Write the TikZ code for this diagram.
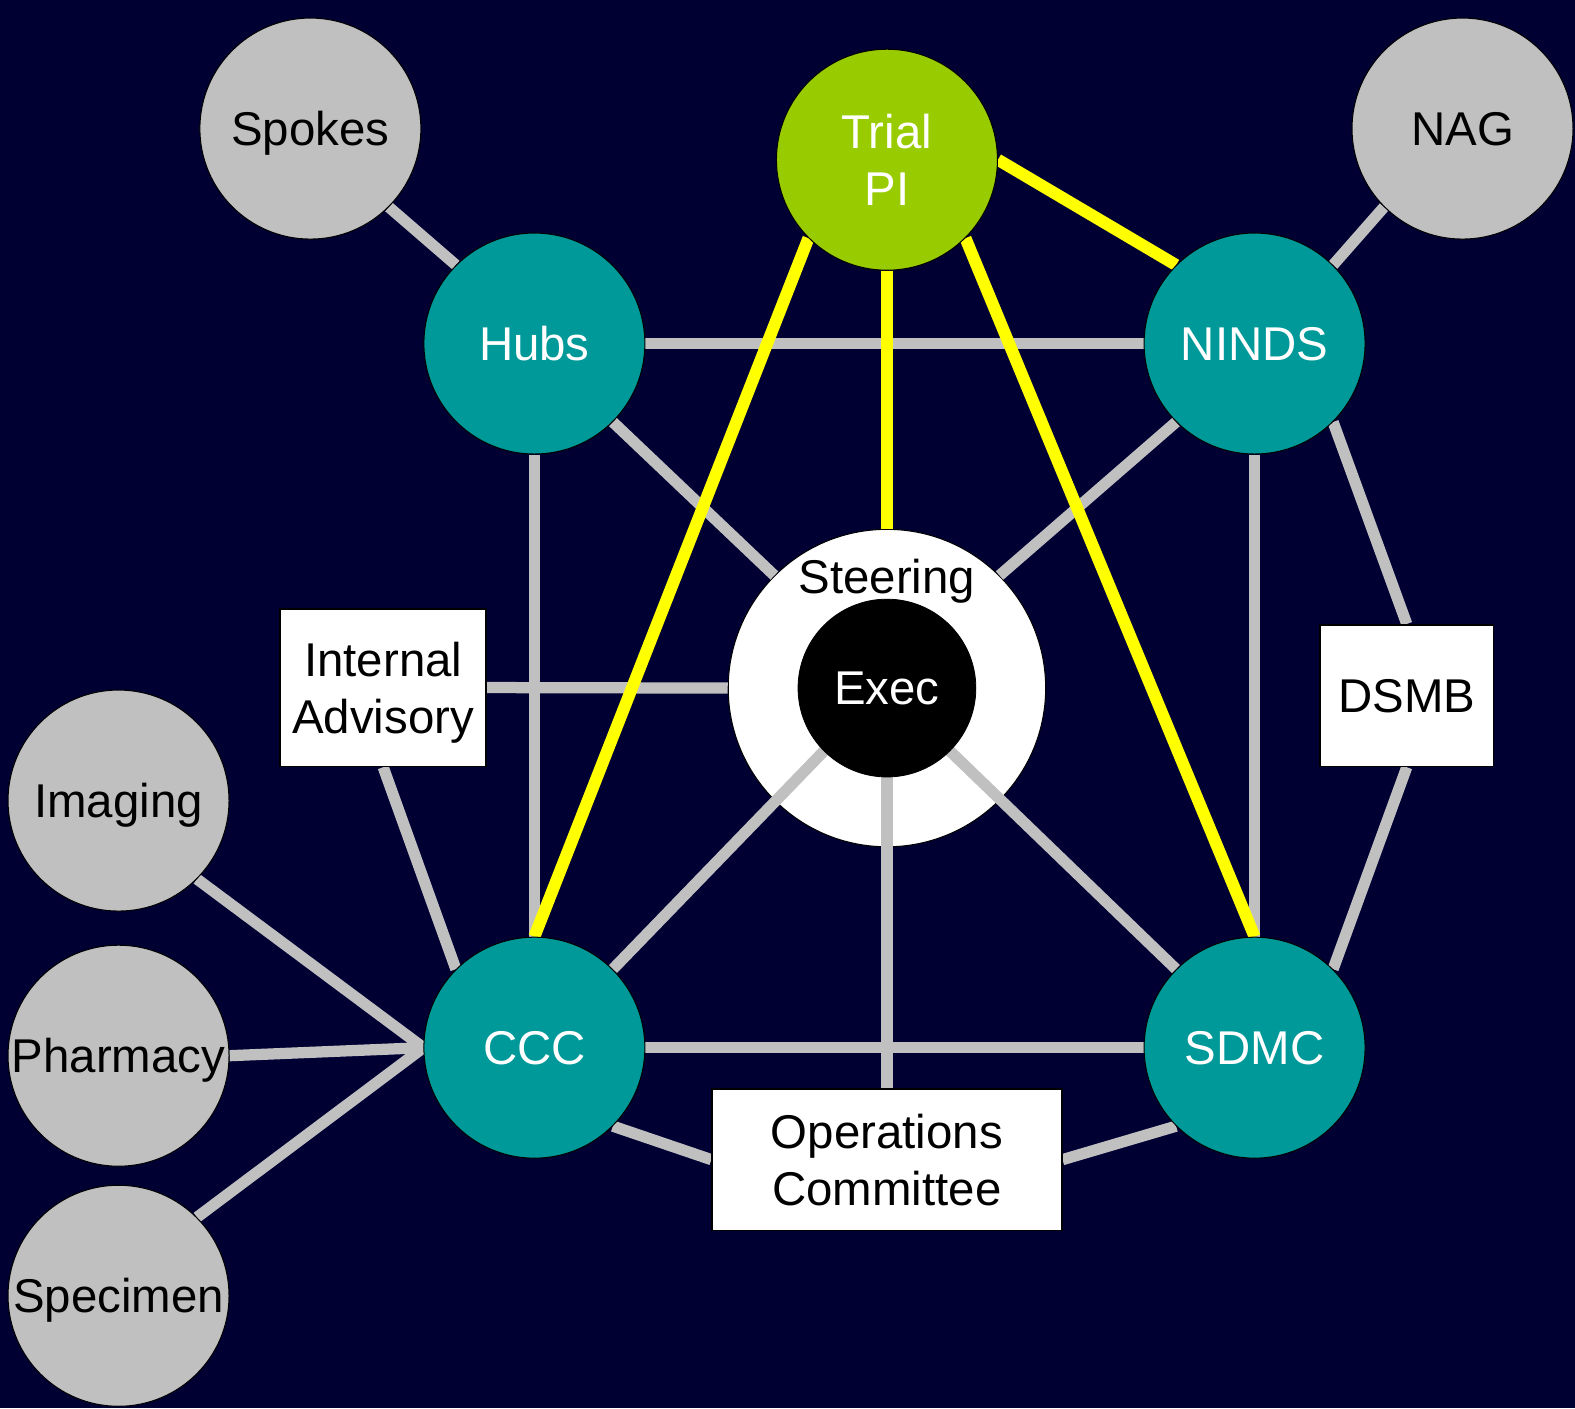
\documentclass[tikz,border=0pt]{standalone}
\usepackage{fontspec}
\setmainfont{Liberation Sans}
\definecolor{bgc}{HTML}{000033}
\definecolor{teal}{HTML}{009999}
\definecolor{lime}{HTML}{99CC00}
\definecolor{lgray}{HTML}{C0C0C0}
\definecolor{yel}{HTML}{FFFF00}
\pgfdeclarelayer{bglayer}
\pgfdeclarelayer{linelayer}
\pgfsetlayers{bglayer,linelayer,main}
\tikzset{
  txt/.style={font=\fontsize{23.6}{28.6}\selectfont, align=center, text depth=0pt},
  bub/.style={circle, draw=black, line width=0.5pt, minimum size=110pt, inner sep=0pt, txt},
  graybub/.style={bub, fill=lgray, text=black},
  tealbub/.style={bub, fill=teal, text=white},
  greenbub/.style={bub, fill=lime, text=white},
  wbox/.style={rectangle, draw=black, line width=0.8pt, fill=white, text=black, inner sep=0pt, txt},
  gline/.style={draw=lgray, line width=5.6pt},
  yline/.style={draw=yel, line width=6pt},
}
\begin{document}
\begin{tikzpicture}[x=0.5pt,y=-0.5pt]
\begin{pgfonlayer}{bglayer}
\fill[bgc] (0,0) rectangle (1568,1402);
\node[circle, draw=black, line width=0.5pt, fill=white, minimum size=158pt, inner sep=0pt] (steer) at (883,685) {};
\end{pgfonlayer}
\useasboundingbox (0,0) rectangle (1568,1402);

\node[txt, text=black] (steertxt) at (883,574) {Steering};
\node[circle, fill=black, draw=black, minimum size=88.5pt, inner sep=0pt, txt, text=white] (exec) at (883,685) {Exec};

\node[graybub] (spokes) at (309,128) {Spokes};
\node[graybub] (nag) at (1456,128) {NAG};
\node[greenbub] (pi) at (883,159) {Trial\\PI};
\node[tealbub] (hubs) at (532,342) {Hubs};
\node[tealbub] (ninds) at (1249,342) {NINDS};
\node[tealbub] (ccc) at (532,1043) {CCC};
\node[tealbub] (sdmc) at (1249,1043) {SDMC};
\node[graybub] (imaging) at (118,797) {Imaging};
\node[graybub] (pharm) at (118,1051) {Pharmacy};
\node[graybub] (spec) at (118,1290) {Specimen};

\node[wbox, minimum width=102.5pt, minimum height=78.5pt] (ia) at (381.5,684.5) {Internal\\Advisory};
\node[wbox, minimum width=86.5pt, minimum height=70.5pt] (dsmb) at (1400.5,692.5) {DSMB};
\node[wbox, minimum width=174pt, minimum height=70.5pt] (ops) at (883,1154.5) {Operations\\Committee};

\begin{pgfonlayer}{linelayer}
\draw[gline] (spokes.-45) -- (hubs.135);
\draw[gline] (nag.-135) -- (ninds.45);
\draw[gline] (hubs.east) -- (ninds.west);
\draw[gline] (hubs.south) -- (ccc.north);
\draw[gline] (ninds.south) -- (sdmc.north);
\draw[gline] (ccc.east) -- (sdmc.west);
\draw[gline] (hubs.-45) -- (steer.135);
\draw[gline] (ninds.-135) -- (steer.45);
\draw[gline] (ia.east) -- (steer.west);
\draw[gline] (ia.south) -- (ccc.135);
\draw[gline] (ninds.-45) -- (dsmb.north);
\draw[gline] (dsmb.south) -- (sdmc.45);
\draw[gline] (ccc.45) -- (exec.-135);
\draw[gline] (sdmc.135) -- (exec.-45);
\draw[gline] (exec.south) -- (ops.north);
\draw[gline] (ccc.-45) -- (ops.west);
\draw[gline] (sdmc.-135) -- (ops.east);
\draw[gline] (imaging.-45) -- (ccc.west);
\draw[gline] (pharm.east) -- (ccc.west);
\draw[gline] (spec.45) -- (ccc.west);
\draw[yline] (pi.south) -- (steer.north);
\draw[yline] (pi.-135) -- (ccc.north);
\draw[yline] (pi.-45) -- (sdmc.north);
\draw[yline] (pi.east) -- (ninds.135);
\end{pgfonlayer}
\end{tikzpicture}
\end{document}
